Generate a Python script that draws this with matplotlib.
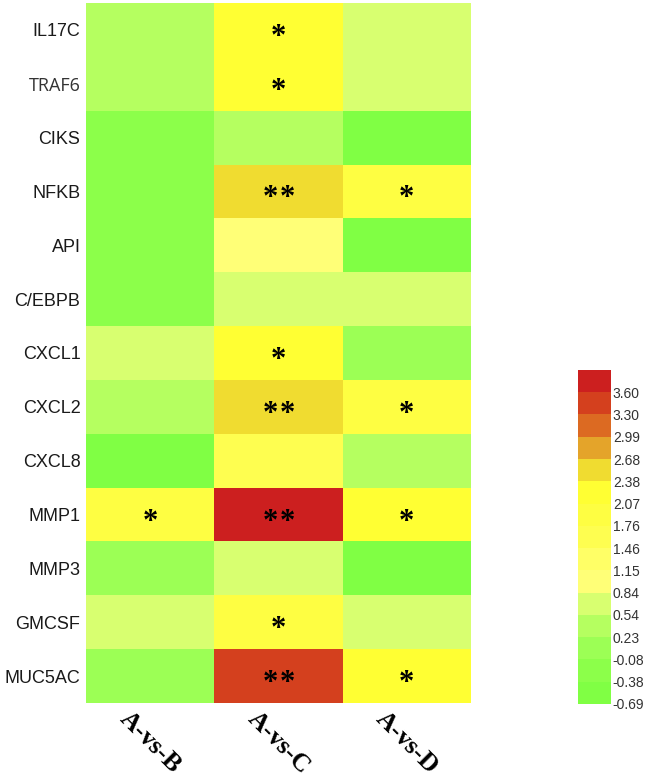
import numpy as np
import matplotlib
matplotlib.use("Agg")
import matplotlib.pyplot as plt
from matplotlib.colors import ListedColormap, BoundaryNorm

# genes (rows) and comparisons (columns)
genes = ["IL17C", "TRAF6", "CIKS", "NFKB", "API", "C/EBPB", "CXCL1",
         "CXCL2", "CXCL8", "MMP1", "MMP3", "GMCSF", "MUC5AC"]
comparisons = ["A-vs-B", "A-vs-C", "A-vs-D"]

# log fold change per comparison
a_vs_b = [0.40, 0.40, -0.30, -0.30, -0.30, -0.30, 0.65, 0.35, -0.45, 1.90, 0.05, 0.65, 0.05]
a_vs_c = [2.20, 2.20, 0.35, 2.50, 1.05, 0.70, 2.10, 2.50, 1.55, 3.75, 0.70, 1.90, 3.45]
a_vs_d = [0.70, 0.70, -0.55, 2.00, -0.50, 0.70, 0.05, 2.00, 0.35, 2.10, -0.50, 0.65, 2.10]

# significance marks
stars_b = ["", "", "", "", "", "", "", "", "", "*", "", "", ""]
stars_c = ["*", "*", "", "**", "", "", "*", "**", "", "**", "", "*", "**"]
stars_d = ["", "", "", "*", "", "", "", "*", "", "*", "", "", "*"]

# colour bar bins
bin_edges = [-0.69, -0.38, -0.08, 0.23, 0.54, 0.84, 1.15, 1.46, 1.76, 2.07,
             2.38, 2.68, 2.99, 3.30, 3.60, 3.91]
tick_vals = [-0.69, -0.38, -0.08, 0.23, 0.54, 0.84, 1.15, 1.46, 1.76, 2.07,
             2.38, 2.68, 2.99, 3.30, 3.60]
bin_colors = ["#80ff44", "#8cff4a", "#9cff55", "#b5ff60", "#d8ff70",
              "#ffff77", "#ffff66", "#fefe50", "#fefe42", "#ffff33",
              "#f0dc30", "#e4a42a", "#dc6a22", "#d4401e", "#cc1f1f"]

cmap = ListedColormap(bin_colors)
norm = BoundaryNorm(bin_edges, cmap.N)

data = np.array([a_vs_b, a_vs_c, a_vs_d]).T
stars = [stars_b, stars_c, stars_d]

fig = plt.figure(figsize=(6.47, 7.79), dpi=100)
ax = fig.add_axes([0.133, 0.0976, 0.595, 0.8986])
ax.pcolormesh(data, cmap=cmap, norm=norm)
ax.set_xlim(0, len(comparisons))
ax.set_ylim(len(genes), 0)

# draw each asterisk on its own so the pair gets a small gap
for j in range(len(comparisons)):
    for i in range(len(genes)):
        n = len(stars[j][i])
        for k in range(n):
            dx = (k - (n - 1) / 2) * 0.135
            ax.text(j + 0.5 + dx, i + 0.64, "*", ha="center", va="center",
                    fontsize=22, fontweight="bold", family="Liberation Serif",
                    color="black")

ax.set_yticks(np.arange(len(genes)) + 0.5)
ax.set_yticklabels(genes, fontsize=13, family="Liberation Sans", color="#1a1a1a")
ax.set_xticks(np.arange(len(comparisons)) + 0.5)
ax.set_xticklabels(comparisons, rotation=-45, ha="center", va="top",
                   fontsize=18.5, fontweight="bold", family="Liberation Serif")
ax.tick_params(length=0)
ax.tick_params(axis="y", pad=4)
ax.tick_params(axis="x", pad=3)
ax.get_yticklabels()[1].set_family("Open Sans")
ax.get_yticklabels()[1].set_color("#333333")
for s in ax.spines.values():
    s.set_visible(False)

cax = fig.add_axes([0.893, 0.0963, 0.051, 0.4288])
cb = fig.colorbar(plt.cm.ScalarMappable(norm=norm, cmap=cmap), cax=cax,
                  ticks=tick_vals)
cb.set_ticklabels(["%.2f" % v for v in tick_vals])
cb.outline.set_visible(False)
cax.minorticks_off()
cax.tick_params(which="both", length=0, pad=1.5, labelsize=10, labelcolor="#333333")
for t in cax.get_yticklabels():
    t.set_family("Liberation Sans")

fig.savefig("out.png", dpi=100)
